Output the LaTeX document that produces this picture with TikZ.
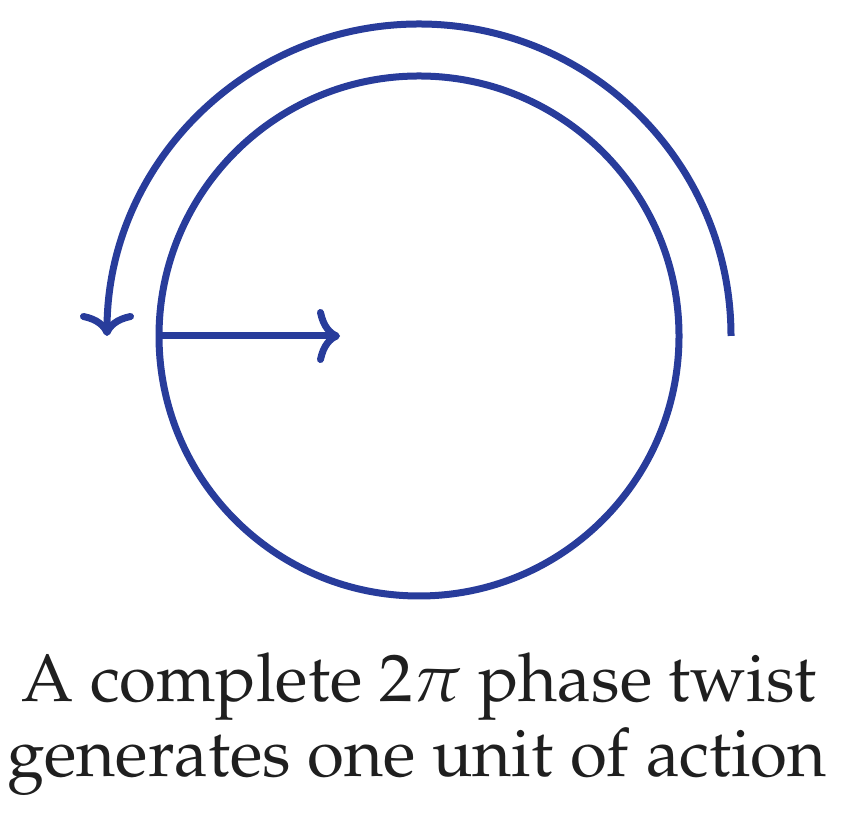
\documentclass[tikz,border=0pt]{standalone}
\usepackage[T1]{fontenc}
\usepackage{mathpazo}
\usetikzlibrary{arrows.meta}
\definecolor{twistblue}{RGB}{40,60,155}
\tikzset{
  stroke/.style={draw=twistblue, line width=3.5pt},
  tip/.style={-{Computer Modern Rightarrow[length=11.5pt,width=27pt,line cap=round]}},
  caption/.style={anchor=base, inner sep=0pt, text=black!88, font=\fontsize{33.6}{37.5}\selectfont}
}
\begin{document}
\begin{tikzpicture}[x=0.5pt,y=0.5pt]
  \useasboundingbox (0,0) rectangle (844,812);
  \coordinate (O) at (419,476);
  \coordinate (W) at (159,476);
  \coordinate (T) at (340,476);
  \coordinate (S) at (731,476);
  \draw[stroke] (O) circle (260);
  \draw[stroke, tip] (W) -- (T);
  \draw[stroke, tip] (S) arc[start angle=0, end angle=180, radius=312];
  \node[caption] (l1) at (419,110) {A complete $2\pi$ phase twist};
  \node[caption] (l2) at (417,35) {generates one unit of action};
\end{tikzpicture}
\end{document}
